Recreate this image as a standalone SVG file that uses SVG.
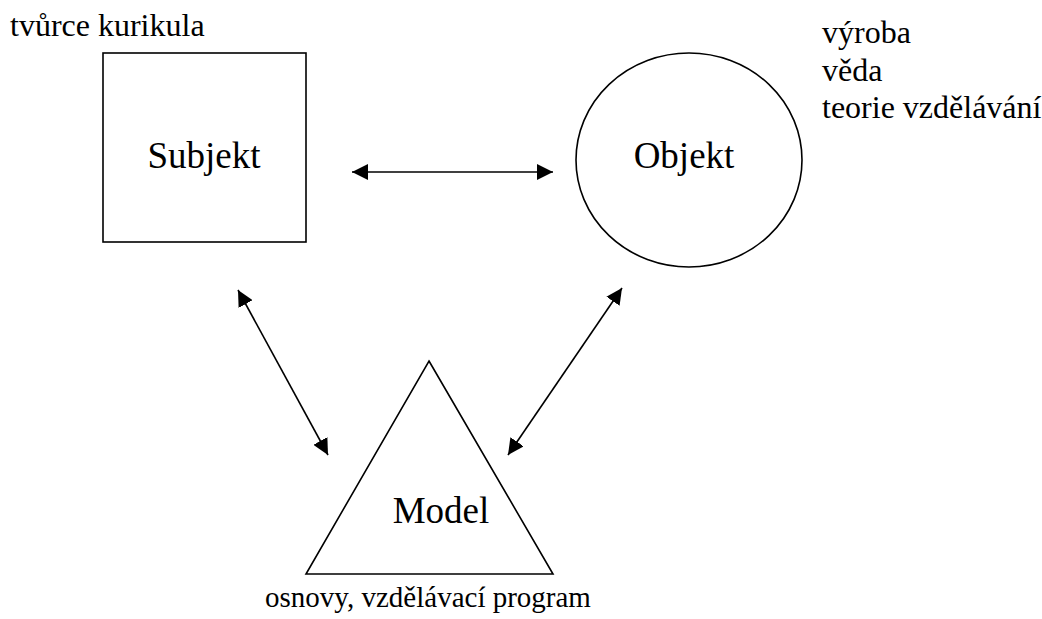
<svg xmlns="http://www.w3.org/2000/svg" width="1042" height="619" viewBox="0 0 1042 619">
  <style>
    .shape { fill: none; stroke: #000; stroke-width: 1.6; }
    .link { stroke: #000; stroke-width: 1.6; fill: none; marker-start: url(#head); marker-end: url(#head); }
  </style>
  <defs>
    <marker id="head" markerUnits="userSpaceOnUse" markerWidth="16" markerHeight="16" refX="15" refY="7.5" orient="auto-start-reverse" viewBox="0 0 15 15">
      <path d="M0,0 L15,7.5 L0,15 Z" fill="#000"/>
    </marker>
  </defs>

  <!-- Subject: square with its caption above -->
  <g id="subjekt">
    <rect class="shape" x="103" y="53" width="203" height="189"/>
    <text font-family="Liberation Serif" font-size="37" x="204" y="168" text-anchor="middle">Subjekt</text>
    <text font-family="Liberation Serif" font-size="32" x="10" y="36">tvůrce kurikula</text>
  </g>

  <!-- Object: circle with the list of sources beside it -->
  <g id="objekt">
    <ellipse class="shape" cx="689" cy="160" rx="113" ry="107"/>
    <text font-family="Liberation Serif" font-size="37" x="684" y="168" text-anchor="middle">Objekt</text>
    <text font-family="Liberation Serif" font-size="32" x="822" y="43">výroba</text>
    <text font-family="Liberation Serif" font-size="32" x="822" y="81">věda</text>
    <text font-family="Liberation Serif" font-size="32" x="822" y="118">teorie vzdělávání</text>
  </g>

  <!-- Model: triangle with caption below -->
  <g id="model">
    <polygon class="shape" points="429,361 553,574 306,574"/>
    <text font-family="Liberation Serif" font-size="37" x="441" y="523" text-anchor="middle">Model</text>
    <text font-family="Liberation Serif" font-size="29" x="428" y="607" text-anchor="middle">osnovy, vzdělávací program</text>
  </g>

  <!-- Two-way relations between the three nodes -->
  <g id="connectors">
    <line class="link" x1="352" y1="172" x2="553" y2="172"/>
    <line class="link" x1="238" y1="290" x2="328" y2="455"/>
    <line class="link" x1="622" y1="288" x2="508" y2="455"/>
  </g>
</svg>
